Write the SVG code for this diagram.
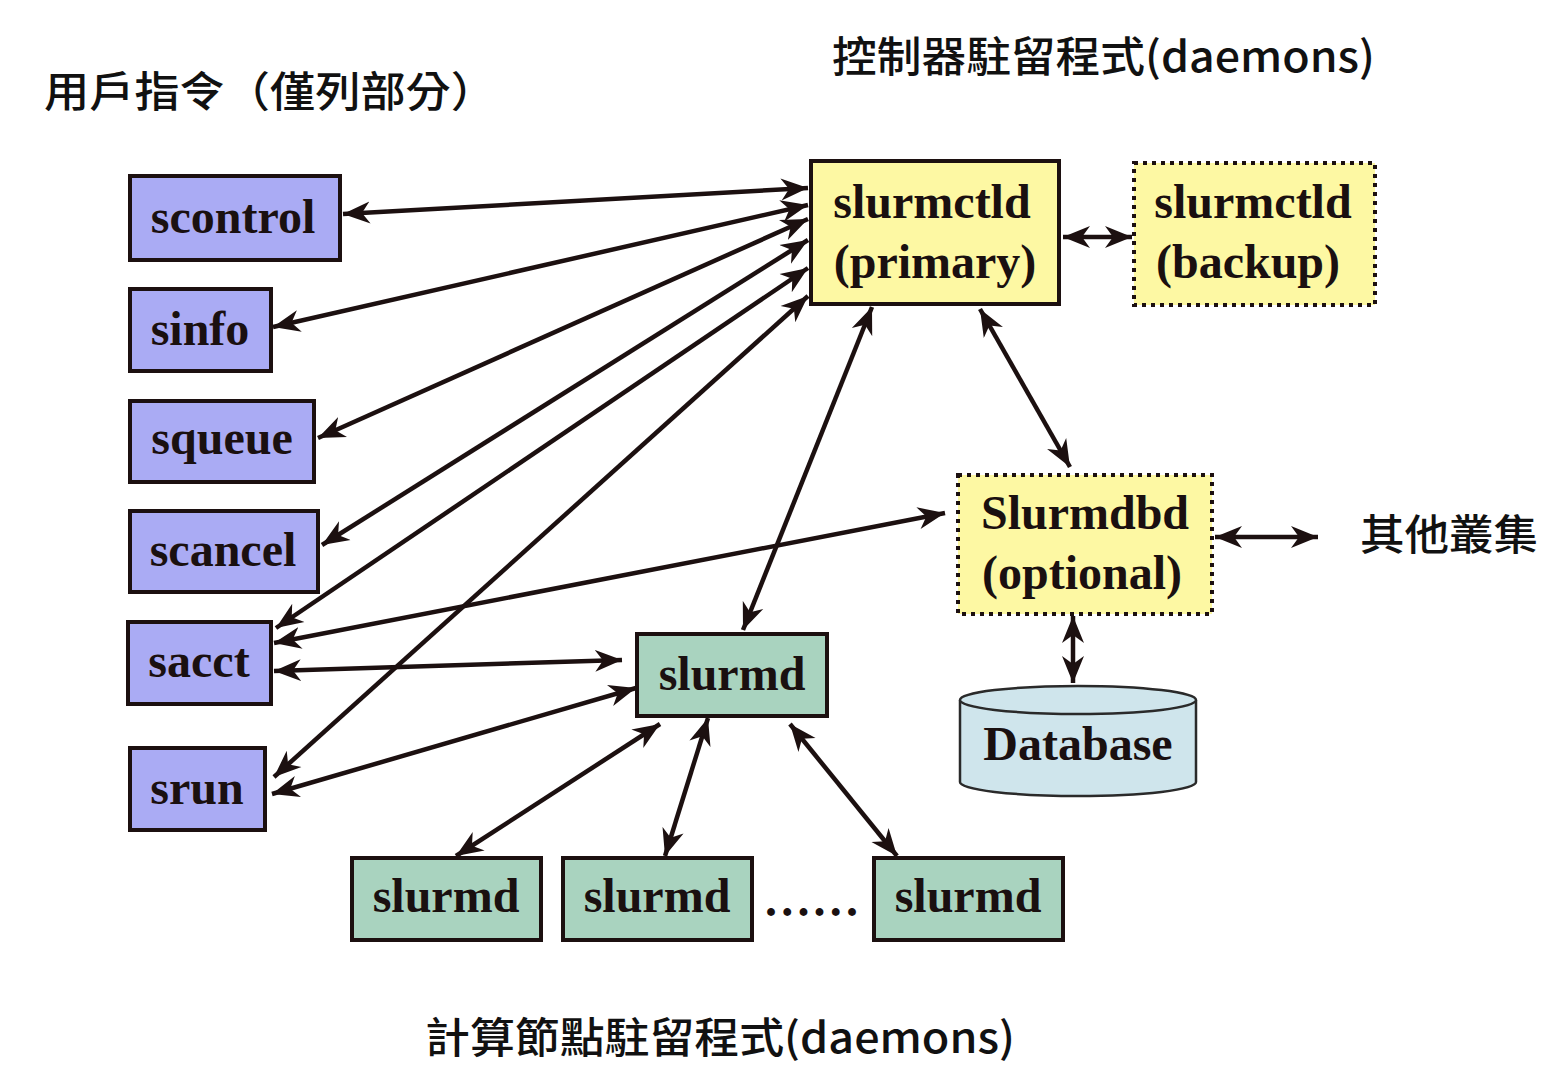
<svg xmlns="http://www.w3.org/2000/svg" width="1558" height="1082" viewBox="0 0 1558 1082">
<style>
.box{stroke:#1c1010;stroke-width:4}
.cmd{fill:#aaabf4}
.ctl{fill:#fdf8a3}
.dot{stroke-dasharray:4 5}
.node{fill:#a9d3bf}
.lbl{font-family:"Liberation Serif","Times New Roman",serif;font-weight:bold;font-size:48px;fill:#1a1010}
.cjk{font-family:"Noto Sans CJK TC","Noto Sans CJK SC",sans-serif;font-weight:500;font-size:42px;fill:#111}
.con line{stroke:#1c1010;stroke-width:4.5;marker-start:url(#ah);marker-end:url(#ah)}
</style>
<defs>
<marker id="ah" markerUnits="userSpaceOnUse" markerWidth="28" markerHeight="24" refX="27" refY="11" orient="auto-start-reverse" viewBox="0 0 28 22">
<path d="M0,0 L27,11 L0,22 L8,11 z" fill="#1c1010"/>
</marker>
</defs>
<rect width="1558" height="1082" fill="#fff"/>

<text class="cjk" x="44" y="107" textLength="452" lengthAdjust="spacingAndGlyphs">用戶指令（僅列部分）</text>
<text class="cjk" x="832" y="72" textLength="543" lengthAdjust="spacingAndGlyphs">控制器駐留程式(daemons)</text>
<text class="cjk" x="1360" y="550" textLength="178" lengthAdjust="spacingAndGlyphs">其他叢集</text>
<text class="cjk" x="425" y="1053" textLength="590" lengthAdjust="spacingAndGlyphs">計算節點駐留程式(daemons)</text>

<g class="con">
<line x1="343" y1="214" x2="808" y2="188"/>
<line x1="273" y1="327" x2="808" y2="205"/>
<line x1="318" y1="438" x2="808" y2="219"/>
<line x1="322" y1="545" x2="808" y2="240"/>
<line x1="276" y1="628" x2="808" y2="268"/>
<line x1="274" y1="777" x2="808" y2="296"/>
<line x1="274" y1="643" x2="945" y2="513"/>
<line x1="274" y1="671" x2="622" y2="660"/>
<line x1="272" y1="794" x2="636" y2="688"/>
<line x1="743" y1="630" x2="872" y2="307"/>
<line x1="980" y1="309" x2="1070" y2="467"/>
<line x1="1063" y1="237" x2="1132" y2="237"/>
<line x1="1215" y1="537" x2="1318" y2="537"/>
<line x1="1073" y1="616" x2="1073" y2="683"/>
<line x1="660" y1="724" x2="456" y2="856"/>
<line x1="708" y1="718" x2="665" y2="856"/>
<line x1="790" y1="724" x2="897" y2="856"/>
</g>

<g id="scontrol"><rect class="box cmd" x="130" y="176" width="210" height="84"/><text class="lbl" x="233" y="233" text-anchor="middle">scontrol</text></g>
<g id="sinfo"><rect class="box cmd" x="130" y="289" width="141" height="82"/><text class="lbl" x="200" y="345" text-anchor="middle">sinfo</text></g>
<g id="squeue"><rect class="box cmd" x="130" y="401" width="184" height="81"/><text class="lbl" x="222" y="454" text-anchor="middle">squeue</text></g>
<g id="scancel"><rect class="box cmd" x="130" y="511" width="188" height="81"/><text class="lbl" x="223" y="566" text-anchor="middle">scancel</text></g>
<g id="sacct"><rect class="box cmd" x="128" y="622" width="143" height="82"/><text class="lbl" x="199" y="677" text-anchor="middle">sacct</text></g>
<g id="srun"><rect class="box cmd" x="130" y="748" width="135" height="82"/><text class="lbl" x="197" y="804" text-anchor="middle">srun</text></g>

<g id="slurmctld-primary"><rect class="box ctl" x="811" y="161" width="248" height="143"/><text class="lbl" x="932" y="218" text-anchor="middle">slurmctld</text><text class="lbl" x="935" y="278" text-anchor="middle">(primary)</text></g>
<g id="slurmctld-backup"><rect class="box ctl dot" x="1134" y="163" width="241" height="142"/><text class="lbl" x="1253" y="218" text-anchor="middle">slurmctld</text><text class="lbl" x="1248" y="278" text-anchor="middle">(backup)</text></g>
<g id="slurmdbd"><rect class="box ctl dot" x="958" y="475" width="254" height="139"/><text class="lbl" x="1085" y="529" text-anchor="middle">Slurmdbd</text><text class="lbl" x="1082" y="589" text-anchor="middle">(optional)</text></g>
<g id="database">
<path d="M960,700 L960,782 A118,14 0 0 0 1196,782 L1196,700" fill="#cfe5ec" stroke="#2a2a2a" stroke-width="2.5"/>
<ellipse cx="1078" cy="700" rx="118" ry="14" fill="#cfe5ec" stroke="#2a2a2a" stroke-width="2.5"/>
<text class="lbl" x="1078" y="760" text-anchor="middle">Database</text></g>

<g id="slurmd-main"><rect class="box node" x="637" y="634" width="190" height="82"/><text class="lbl" x="732" y="690" text-anchor="middle">slurmd</text></g>
<g id="slurmd-1"><rect class="box node" x="352" y="858" width="189" height="82"/><text class="lbl" x="446" y="912" text-anchor="middle">slurmd</text></g>
<g id="slurmd-2"><rect class="box node" x="563" y="858" width="189" height="82"/><text class="lbl" x="657" y="912" text-anchor="middle">slurmd</text></g>
<g id="slurmd-n"><rect class="box node" x="874" y="858" width="189" height="82"/><text class="lbl" x="968" y="912" text-anchor="middle">slurmd</text></g>
<text class="lbl" x="765" y="916" textLength="93" lengthAdjust="spacing">......</text>
</svg>
